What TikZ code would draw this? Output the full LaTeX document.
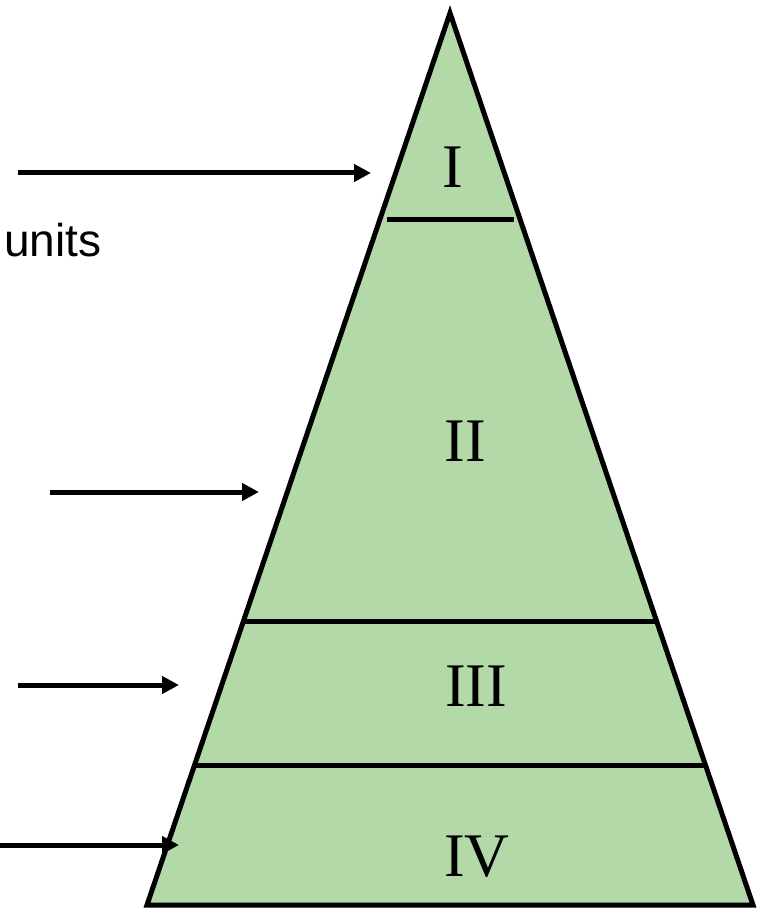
\documentclass[tikz,border=0pt]{standalone}
\usepackage{fontspec}
\setmainfont{Liberation Serif}
\newfontfamily\labelsans{Liberation Sans}
\usetikzlibrary{arrows.meta}
\definecolor{tierfill}{RGB}{179,217,168}
\tikzset{
  outline/.style={line width=5pt, line join=miter},
  divider/.style={line width=5pt},
  pointer/.style={line width=5pt, -{Triangle[length=17pt,width=17pt]}},
  tier/.style={font=\fontsize{62}{70}\selectfont, anchor=base, inner sep=0pt},
  note/.style={font=\labelsans\fontsize{46}{50}\selectfont, anchor=base west, inner sep=0pt}
}
\begin{document}
\begin{tikzpicture}[x=1pt,y=-1pt]
  \useasboundingbox (0,0) rectangle (761,909);
  % pyramid body
  \coordinate (apex) at (450,13);
  \coordinate (bl) at (147,905);
  \coordinate (br) at (753,905);
  \draw[outline, fill=tierfill] (apex) -- (br) -- (bl) -- cycle;
  % tier dividers
  \coordinate (d1l) at (387,220);  \coordinate (d1r) at (514,220);
  \coordinate (d2l) at (244,621);  \coordinate (d2r) at (656,621);
  \coordinate (d3l) at (195,765);  \coordinate (d3r) at (705,765);
  \draw[divider] (d1l) -- (d1r);
  \draw[divider] (d2l) -- (d2r);
  \draw[divider] (d3l) -- (d3r);
  % tier labels
  \node[tier] (t1) at (453,188) {I};
  \node[tier] (t2) at (465,461) {II};
  \node[tier] (t3) at (476,706) {III};
  \node[tier] (t4) at (477,876) {IV};
  % side note
  \node[note] (units) at (4,256) {units};
  % pointers
  \coordinate (a1s) at (18,173);  \coordinate (a1e) at (371,173);
  \coordinate (a2s) at (50,492);  \coordinate (a2e) at (259,492);
  \coordinate (a3s) at (18,685);  \coordinate (a3e) at (179,685);
  \coordinate (a4s) at (0,845);   \coordinate (a4e) at (179,845);
  \draw[pointer] (a1s) -- (a1e);
  \draw[pointer] (a2s) -- (a2e);
  \draw[pointer] (a3s) -- (a3e);
  \draw[pointer] (a4s) -- (a4e);
\end{tikzpicture}
\end{document}
